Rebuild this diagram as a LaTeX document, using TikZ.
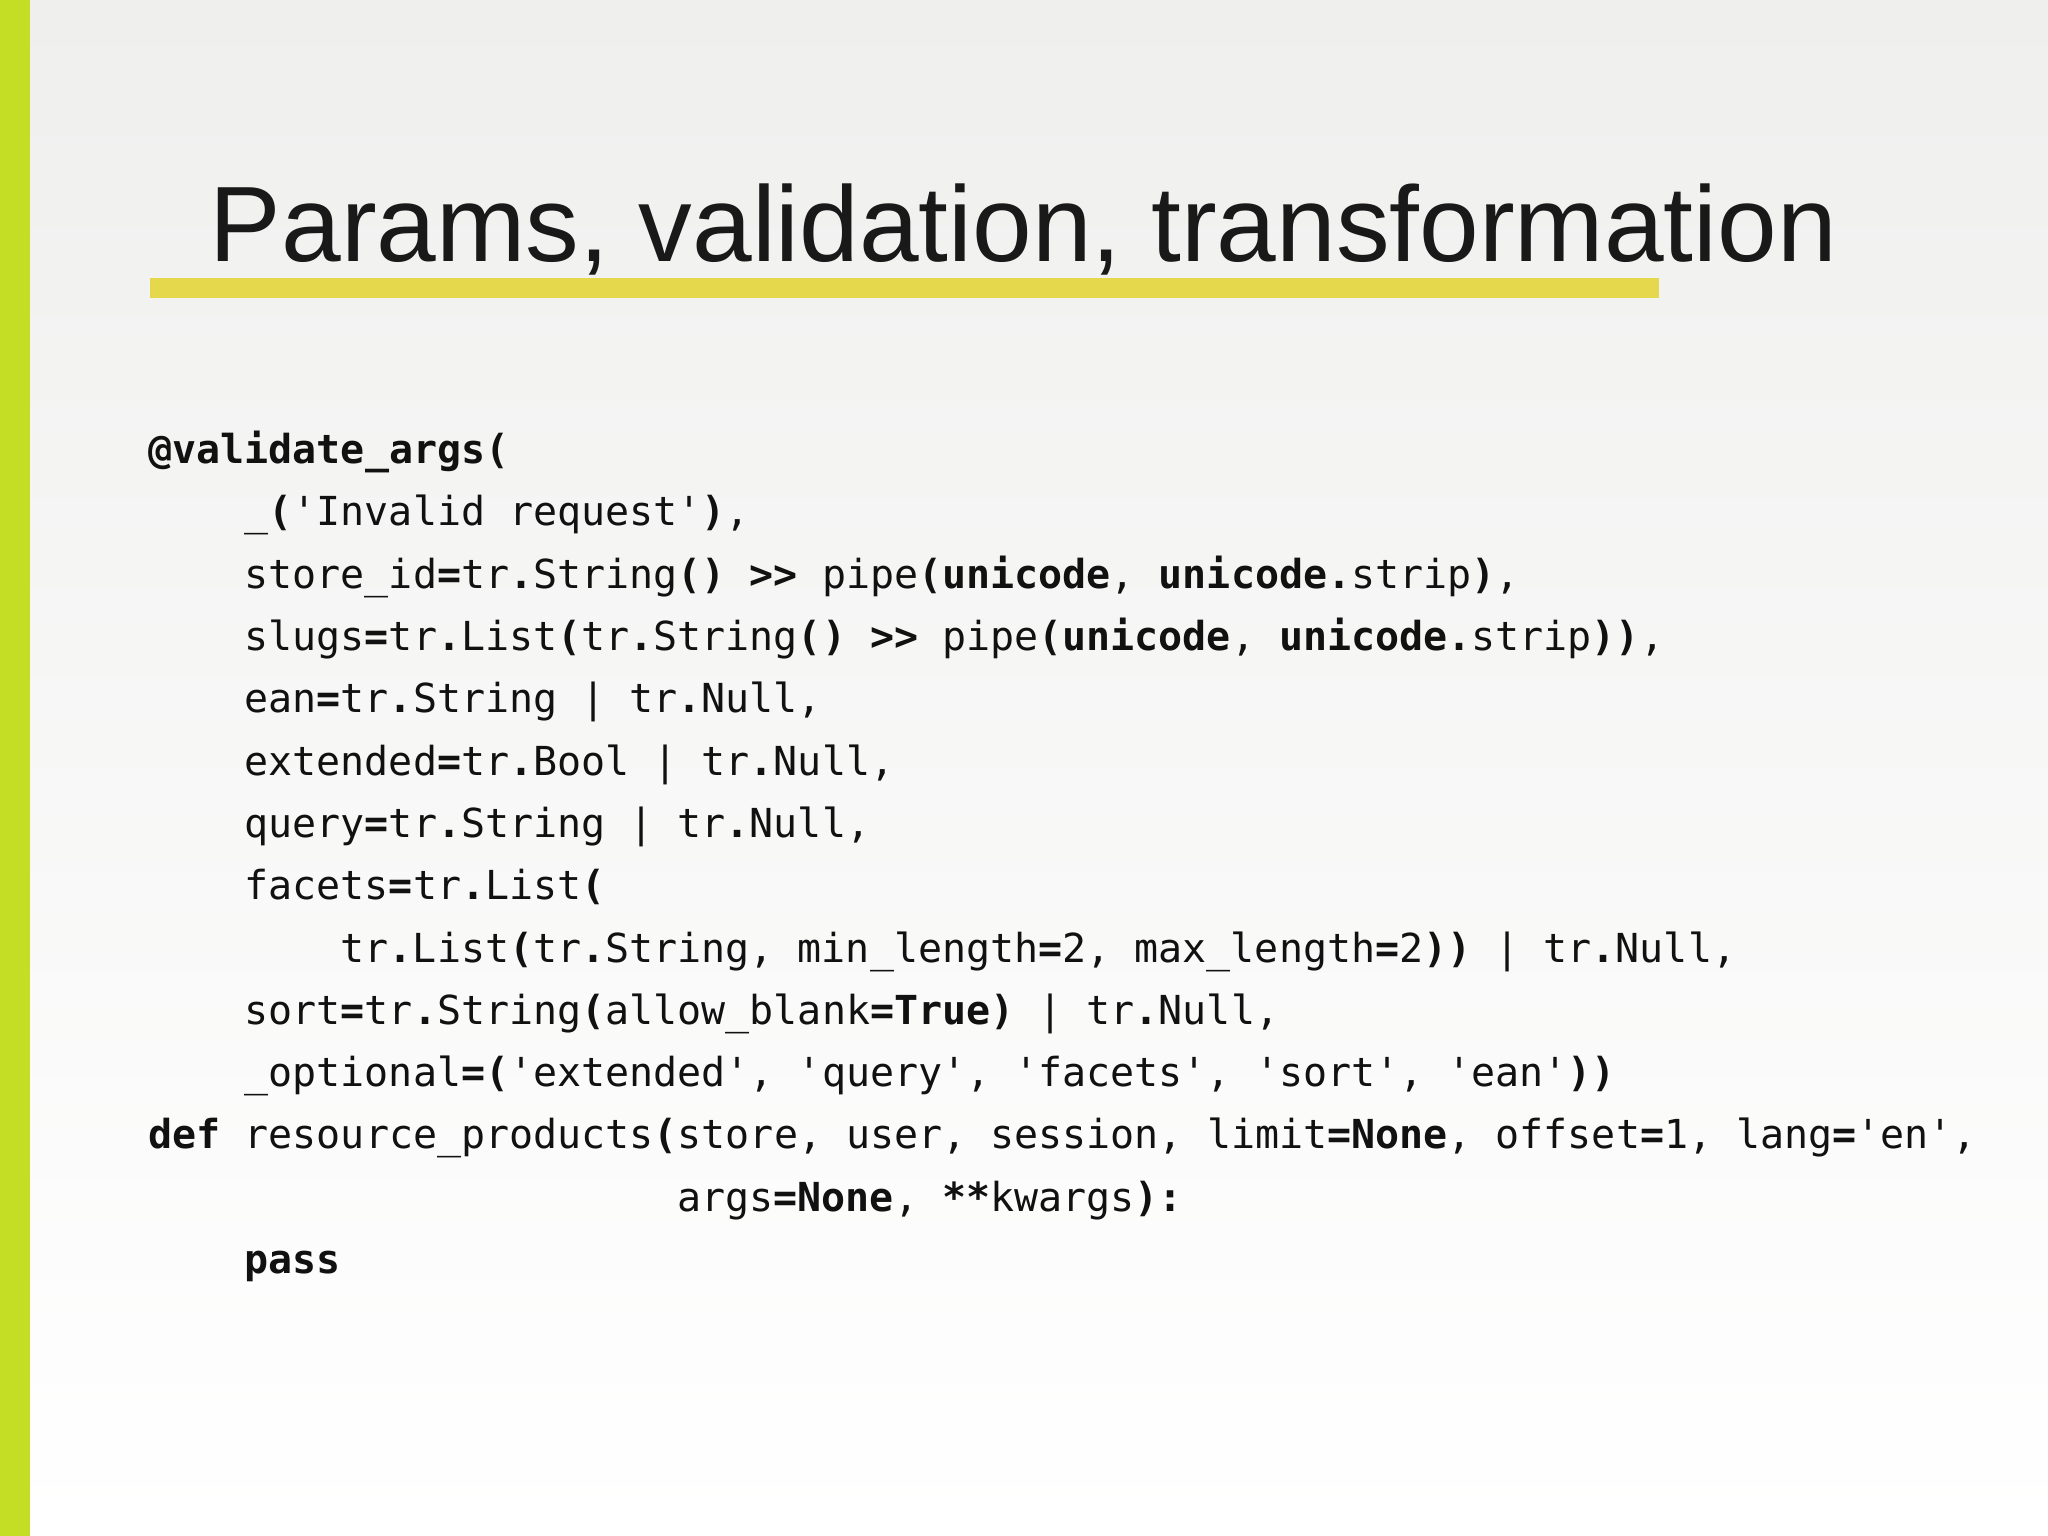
\documentclass[tikz,border=0pt]{standalone}
\usepackage{fontspec}
\setmainfont{Liberation Sans}
\setmonofont{DejaVu Sans Mono}
\usepackage{graphicx}
\definecolor{barGreen}{HTML}{C4DE26}
\definecolor{lineYellow}{HTML}{E6D84C}
\definecolor{bgTop}{HTML}{EFF0EE}
\definecolor{codeCol}{HTML}{111111}
\newcommand{\B}[1]{\textbf{#1}}
\tikzset{codeline/.style={anchor=base west,inner sep=0pt,font=\fontsize{8.7pt}{10pt}\ttfamily,text=codeCol}}
\begin{document}
\begin{tikzpicture}[x=0.01cm,y=-0.01cm]
\useasboundingbox (0,0) rectangle (1568,1176);
\shade[top color=bgTop,bottom color=white] (0,0) rectangle (1568,1176);
\fill[barGreen] (0,0) rectangle (23,1176);
\fill[lineYellow] (115,213) rectangle (1270,228);
\node[anchor=base west,inner sep=0pt,text=black!90] (title) at (160,200)
  {\resizebox{12.45cm}{!}{\fontsize{24pt}{28pt}\selectfont Params, validation, transformation}};
\def\ya{355}\def\dy{47.7}
\def\ca{113}\def\cb{186.6}\def\cc{260.2}\def\cd{518}
\node[codeline] (l1) at (\ca,355) {\B{@validate\_args(}};
\node[codeline] (l2) at (\cb,402.7) {\_\B{(}'Invalid request'\B{)},};
\node[codeline] (l3) at (\cb,450.4) {store\_id\B{=}tr\B{.}String\B{()} \B{>>} pipe\B{(unicode}, \B{unicode.}strip\B{)},};
\node[codeline] (l4) at (\cb,498.1) {slugs\B{=}tr\B{.}List\B{(}tr\B{.}String\B{()} \B{>>} pipe\B{(unicode}, \B{unicode.}strip\B{))},};
\node[codeline] (l5) at (\cb,545.8) {ean\B{=}tr\B{.}String | tr\B{.}Null,};
\node[codeline] (l6) at (\cb,593.5) {extended\B{=}tr\B{.}Bool | tr\B{.}Null,};
\node[codeline] (l7) at (\cb,641.2) {query\B{=}tr\B{.}String | tr\B{.}Null,};
\node[codeline] (l8) at (\cb,688.9) {facets\B{=}tr\B{.}List\B{(}};
\node[codeline] (l9) at (\cc,736.6) {tr\B{.}List\B{(}tr\B{.}String, min\_length\B{=}2, max\_length\B{=}2\B{))} | tr\B{.}Null,};
\node[codeline] (l10) at (\cb,784.3) {sort\B{=}tr\B{.}String\B{(}allow\_blank\B{=True)} | tr\B{.}Null,};
\node[codeline] (l11) at (\cb,832) {\_optional\B{=(}'extended', 'query', 'facets', 'sort', 'ean'\B{))}};
\node[codeline] (l12) at (\ca,879.7) {\B{def} resource\_products\B{(}store, user, session, limit\B{=None}, offset\B{=}1, lang\B{=}'en',};
\node[codeline] (l13) at (\cd,927.4) {args\B{=None}, \B{**}kwargs\B{):}};
\node[codeline] (l14) at (\cb,975.1) {\B{pass}};
\end{tikzpicture}
\end{document}
